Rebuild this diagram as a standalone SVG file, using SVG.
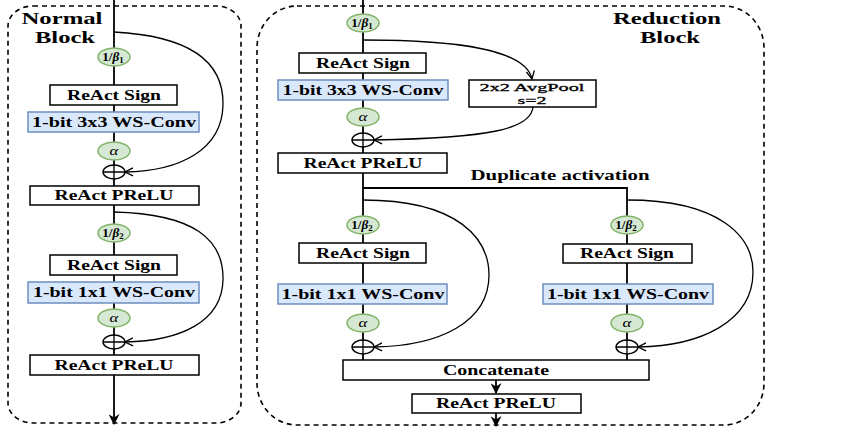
<svg xmlns="http://www.w3.org/2000/svg" width="864" height="432" viewBox="0 0 864 432">
<style>
.bg{fill:#ffffff}
.border{fill:none;stroke:#000;stroke-width:1.6;stroke-dasharray:5 4}
.box{fill:#ffffff;stroke:#000;stroke-width:1.5}
.conv{fill:#dae8fc;stroke:#6c8ebf;stroke-width:1.5}
.sc{fill:#d5e8d4;stroke:#82b366;stroke-width:1.5}
.plus{fill:#ffffff;stroke:#000;stroke-width:1.4}
.main{fill:none;stroke:#000;stroke-width:1.8}
.skip{fill:none;stroke:#000;stroke-width:1.3}
text{font-family:"Liberation Serif","Times New Roman",serif;fill:#000}
.lbl{font-size:14px;font-weight:bold;text-anchor:middle}
.ttl{font-size:16px;font-weight:bold;text-anchor:middle}
.pool{font-size:11px;text-anchor:middle;stroke:#000;stroke-width:0.3}
.math{font-size:12px;text-anchor:middle;font-weight:bold}
.alpha{font-size:13px;font-style:italic;text-anchor:middle}
</style>
<defs>
<marker id="open" viewBox="0 0 10 10" refX="9" refY="5" markerWidth="10" markerHeight="10" markerUnits="userSpaceOnUse" orient="auto">
<path d="M1,1 L9,5 L1,9" fill="none" stroke="#000" stroke-width="1.3"/>
</marker>
<marker id="solid" viewBox="0 0 10 10" refX="9" refY="5" markerWidth="11" markerHeight="11" markerUnits="userSpaceOnUse" orient="auto">
<path d="M0,0 L10,5 L0,10 L3,5 z" fill="#000"/>
</marker>
</defs>
<rect class="bg" x="0" y="0" width="864" height="432"/>

<g id="normal-block-frame">
<rect class="border" x="8" y="6" width="233" height="417" rx="25" ry="20"/>
<text class="ttl" x="62" y="24" textLength="81" lengthAdjust="spacingAndGlyphs">Normal</text>
<text class="ttl" x="65" y="43" textLength="60" lengthAdjust="spacingAndGlyphs">Block</text>
</g>
<g id="reduction-block-frame">
<rect class="border" x="257" y="6" width="507" height="419" rx="40" ry="42"/>
<text class="ttl" x="667" y="24" textLength="108" lengthAdjust="spacingAndGlyphs">Reduction</text>
<text class="ttl" x="670" y="43" textLength="60" lengthAdjust="spacingAndGlyphs">Block</text>
</g>

<g id="connectors">
<path class="main" d="M114,0 V424" marker-end="url(#solid)"/>
<path class="main" d="M363,0 V360 M363,188 H627 V360"/>
<path class="main" d="M496,380 V393" marker-end="url(#solid)"/>
<path class="main" d="M496,413 V426" marker-end="url(#solid)"/>
<path class="skip" d="M114,32 C190,36 224,62 223,105 C222,150 180,171 125,172" marker-end="url(#open)"/>
<path class="skip" d="M114,212 C195,214 224,240 223,280 C222,322 180,341 125,342" marker-end="url(#open)"/>
<path class="skip" d="M363,40 C460,40 526,50 532,79" marker-end="url(#open)"/>
<path class="skip" d="M533,107 C531,129 490,138 374,140" marker-end="url(#open)"/>
<path class="skip" d="M363,200 C460,200 489,240 489,275 C489,322 440,346 374,347" marker-end="url(#open)"/>
<path class="skip" d="M627,200 C722,200 753,238 753,272 C753,322 700,346 638,347" marker-end="url(#open)"/>
</g>

<g id="n-beta1"><ellipse class="sc" cx="114" cy="57" rx="16" ry="9"/><g transform="translate(114,61) scale(1.1,1)"><text class="math" x="-1" y="0">1/<tspan font-style="italic">β</tspan><tspan font-size="8" dy="2">1</tspan></text></g></g>
<g id="n-sign1"><rect class="box" x="50" y="85" width="127" height="20"/><text class="lbl" x="114" y="100" textLength="94" lengthAdjust="spacingAndGlyphs">ReAct Sign</text></g>
<g id="n-conv1"><rect class="conv" x="28" y="112" width="171" height="20"/><text class="lbl" x="114" y="127" textLength="164" lengthAdjust="spacingAndGlyphs">1-bit 3x3 WS-Conv</text></g>
<g id="n-alpha1"><ellipse class="sc" cx="114" cy="151" rx="16" ry="9"/><g transform="translate(114,155) scale(1.3,1)"><text class="alpha" x="0" y="0">α</text></g></g>
<g id="n-add1"><ellipse class="plus" cx="114" cy="172" rx="11" ry="7"/><path class="skip" d="M103,172 H125 M114,165 V179"/></g>
<g id="n-prelu1"><rect class="box" x="30" y="186" width="169" height="19"/><text class="lbl" x="114" y="200" textLength="119" lengthAdjust="spacingAndGlyphs">ReAct PReLU</text></g>

<g id="n-beta2"><ellipse class="sc" cx="114" cy="233" rx="16" ry="9"/><g transform="translate(114,237) scale(1.1,1)"><text class="math" x="-1" y="0">1/<tspan font-style="italic">β</tspan><tspan font-size="8" dy="2">2</tspan></text></g></g>
<g id="n-sign2"><rect class="box" x="50" y="255" width="127" height="20"/><text class="lbl" x="114" y="270" textLength="94" lengthAdjust="spacingAndGlyphs">ReAct Sign</text></g>
<g id="n-conv2"><rect class="conv" x="28" y="282" width="171" height="21"/><text class="lbl" x="114" y="297" textLength="162" lengthAdjust="spacingAndGlyphs">1-bit 1x1 WS-Conv</text></g>
<g id="n-alpha2"><ellipse class="sc" cx="114" cy="318" rx="16" ry="9"/><g transform="translate(114,322) scale(1.3,1)"><text class="alpha" x="0" y="0">α</text></g></g>
<g id="n-add2"><ellipse class="plus" cx="114" cy="342" rx="11" ry="7"/><path class="skip" d="M103,342 H125 M114,335 V349"/></g>
<g id="n-prelu2"><rect class="box" x="30" y="355" width="169" height="20"/><text class="lbl" x="114" y="370" textLength="119" lengthAdjust="spacingAndGlyphs">ReAct PReLU</text></g>

<g id="r-beta1"><ellipse class="sc" cx="363" cy="23" rx="16" ry="9"/><g transform="translate(363,27) scale(1.1,1)"><text class="math" x="-1" y="0">1/<tspan font-style="italic">β</tspan><tspan font-size="8" dy="2">1</tspan></text></g></g>
<g id="r-sign1"><rect class="box" x="299" y="53" width="127" height="20"/><text class="lbl" x="363" y="68" textLength="94" lengthAdjust="spacingAndGlyphs">ReAct Sign</text></g>
<g id="r-conv1"><rect class="conv" x="278" y="80" width="170" height="20"/><text class="lbl" x="363" y="95" textLength="161" lengthAdjust="spacingAndGlyphs">1-bit 3x3 WS-Conv</text></g>
<g id="r-pool"><rect class="box" x="469" y="80" width="127" height="27"/><text class="pool" x="532" y="91" textLength="105" lengthAdjust="spacingAndGlyphs">2x2 AvgPool</text><text class="pool" x="532" y="104" textLength="29" lengthAdjust="spacingAndGlyphs">s=2</text></g>
<g id="r-alpha1"><ellipse class="sc" cx="363" cy="117" rx="16" ry="9"/><g transform="translate(363,121) scale(1.3,1)"><text class="alpha" x="0" y="0">α</text></g></g>
<g id="r-add1"><ellipse class="plus" cx="363" cy="140" rx="11" ry="7"/><path class="skip" d="M352,140 H374 M363,133 V147"/></g>
<g id="r-prelu1"><rect class="box" x="278" y="153" width="169" height="20"/><text class="lbl" x="363" y="168" textLength="119" lengthAdjust="spacingAndGlyphs">ReAct PReLU</text></g>
<g id="r-dup"><text class="lbl" x="560" y="180" textLength="179" lengthAdjust="spacingAndGlyphs">Duplicate activation</text></g>

<g id="r-beta2a"><ellipse class="sc" cx="363" cy="225" rx="16" ry="9"/><g transform="translate(363,229) scale(1.1,1)"><text class="math" x="-1" y="0">1/<tspan font-style="italic">β</tspan><tspan font-size="8" dy="2">2</tspan></text></g></g>
<g id="r-sign2a"><rect class="box" x="299" y="243" width="127" height="20"/><text class="lbl" x="363" y="258" textLength="94" lengthAdjust="spacingAndGlyphs">ReAct Sign</text></g>
<g id="r-conv2a"><rect class="conv" x="278" y="284" width="169" height="20"/><text class="lbl" x="363" y="299" textLength="163" lengthAdjust="spacingAndGlyphs">1-bit 1x1 WS-Conv</text></g>
<g id="r-alpha2a"><ellipse class="sc" cx="363" cy="323" rx="16" ry="9"/><g transform="translate(363,327) scale(1.3,1)"><text class="alpha" x="0" y="0">α</text></g></g>
<g id="r-add2a"><ellipse class="plus" cx="363" cy="347" rx="11" ry="7"/><path class="skip" d="M352,347 H374 M363,340 V354"/></g>

<g id="r-beta2b"><ellipse class="sc" cx="627" cy="225" rx="16" ry="9"/><g transform="translate(627,229) scale(1.1,1)"><text class="math" x="-1" y="0">1/<tspan font-style="italic">β</tspan><tspan font-size="8" dy="2">2</tspan></text></g></g>
<g id="r-sign2b"><rect class="box" x="563" y="244" width="129" height="19"/><text class="lbl" x="627" y="258" textLength="94" lengthAdjust="spacingAndGlyphs">ReAct Sign</text></g>
<g id="r-conv2b"><rect class="conv" x="543" y="284" width="170" height="20"/><text class="lbl" x="628" y="299" textLength="162" lengthAdjust="spacingAndGlyphs">1-bit 1x1 WS-Conv</text></g>
<g id="r-alpha2b"><ellipse class="sc" cx="627" cy="323" rx="16" ry="9"/><g transform="translate(627,327) scale(1.3,1)"><text class="alpha" x="0" y="0">α</text></g></g>
<g id="r-add2b"><ellipse class="plus" cx="627" cy="347" rx="11" ry="7"/><path class="skip" d="M616,347 H638 M627,340 V354"/></g>

<g id="r-concat"><rect class="box" x="343" y="360" width="306" height="20"/><text class="lbl" x="496" y="375" textLength="106" lengthAdjust="spacingAndGlyphs">Concatenate</text></g>
<g id="r-prelu2"><rect class="box" x="412" y="394" width="169" height="19"/><text class="lbl" x="496" y="408" textLength="120" lengthAdjust="spacingAndGlyphs">ReAct PReLU</text></g>
</svg>
